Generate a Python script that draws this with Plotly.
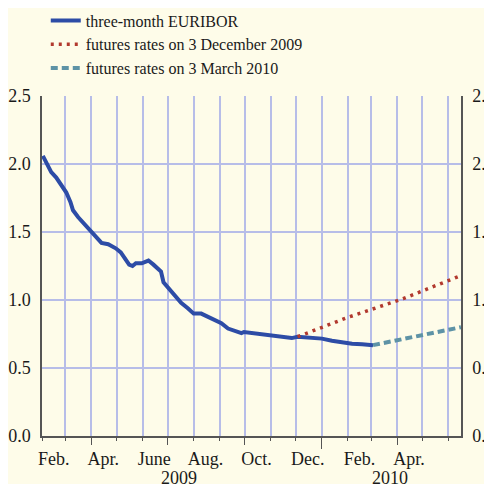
import plotly.graph_objects as go

# three-month EURIBOR (daily)
euribor_dates = [
    "2009-02-02", "2009-02-06", "2009-02-12", "2009-02-18", "2009-02-24",
    "2009-03-02", "2009-03-07", "2009-03-10", "2009-03-16", "2009-03-22",
    "2009-03-31", "2009-04-07", "2009-04-13", "2009-04-21", "2009-04-30",
    "2009-05-06", "2009-05-12", "2009-05-16", "2009-05-20", "2009-05-24",
    "2009-05-31", "2009-06-08", "2009-06-14", "2009-06-23", "2009-06-26",
    "2009-07-02", "2009-07-08", "2009-07-17", "2009-07-25", "2009-08-01",
    "2009-08-10", "2009-08-18", "2009-08-25", "2009-09-03", "2009-09-11",
    "2009-09-21", "2009-09-27", "2009-09-30", "2009-10-09", "2009-10-21",
    "2009-11-02", "2009-11-14", "2009-11-26", "2009-12-03", "2009-12-20",
    "2010-01-01", "2010-01-13", "2010-01-25", "2010-02-06", "2010-02-18",
    "2010-03-03",
]
euribor_values = [
    2.06, 2.01, 1.94, 1.90, 1.85,
    1.79, 1.72, 1.66, 1.61, 1.57,
    1.515, 1.46, 1.42, 1.41, 1.38,
    1.35, 1.29, 1.26, 1.25, 1.27,
    1.27, 1.29, 1.26, 1.21, 1.13,
    1.09, 1.04, 0.98, 0.94, 0.90,
    0.90, 0.875, 0.85, 0.83, 0.79,
    0.77, 0.757, 0.765, 0.757, 0.75,
    0.735, 0.728, 0.72, 0.73, 0.72,
    0.716, 0.70, 0.686, 0.679, 0.674,
    0.668,
]

# futures rates on 3 December 2009
fut_dec_dates = ["2009-12-03", "2010-01-31", "2010-04-08", "2010-06-16"]
fut_dec_values = [0.73, 0.87, 1.01, 1.18]

# futures rates on 3 March 2010
fut_mar_dates = ["2010-03-03", "2010-04-21", "2010-06-16"]
fut_mar_values = [0.668, 0.73, 0.80]

month_ticks = ["2009-02-15", "2009-04-15", "2009-06-15", "2009-08-15",
               "2009-10-15", "2009-12-15", "2010-02-15", "2010-04-15"]
month_labels = ["Feb.", "Apr.", "June", "Aug.", "Oct.", "Dec.", "Feb.", "Apr."]
year_pos = ["2009-07-14", "2010-03-23"]
year_labels = ["2009", "2010"]

x_range = ["2009-02-01", "2010-06-16"]
BG = "#fefce9"
GRID = "#b7bde8"
AXIS = "#555555"
FAMILY = "Liberation Serif, Times New Roman, serif"
FONT = dict(family=FAMILY, size=18, color="#1a1a1a")
LEG_FONT = dict(family=FAMILY, size=16, color="#1a1a1a")

fig = go.Figure()
fig.add_trace(go.Scatter(
    x=euribor_dates, y=euribor_values, mode="lines",
    line=dict(color="#2d4ca6", width=4), name="three-month EURIBOR"))
fig.add_trace(go.Scatter(
    x=fut_dec_dates, y=fut_dec_values, mode="lines",
    line=dict(color="#b2392e", width=3.5, dash="3px,5px"),
    name="futures rates on 3 December 2009"))
fig.add_trace(go.Scatter(
    x=fut_mar_dates, y=fut_mar_values, mode="lines",
    line=dict(color="#5e93a6", width=4, dash="7px,4px"),
    name="futures rates on 3 March 2010"))

# invisible helpers for the overlaid axes
fig.add_trace(go.Scatter(x=x_range, y=[0, 0], xaxis="x2", yaxis="y2",
                         mode="lines", line=dict(width=0), showlegend=False,
                         hoverinfo="skip"))
fig.add_trace(go.Scatter(x=x_range, y=[0, 0], xaxis="x3", yaxis="y",
                         mode="lines", line=dict(width=0), showlegend=False,
                         hoverinfo="skip"))

for d, t in zip(year_pos, year_labels):
    fig.add_annotation(x=d, xref="x", y=-0.123, yref="paper", text=t,
                       showarrow=False, font=FONT, yanchor="middle")

# the page body adds an 8px margin, so margins are shifted by that much
fig.update_layout(
    width=492, height=476,
    margin=dict(l=34, r=39, t=88, b=48, autoexpand=False),
    paper_bgcolor=BG, plot_bgcolor=BG,
    font=FONT,
    showlegend=True,
    legend=dict(x=0.009, y=1.272, xanchor="left", yanchor="top",
                bgcolor="rgba(0,0,0,0)", font=LEG_FONT, tracegroupgap=0),
    xaxis=dict(type="date", range=x_range, tick0="2009-01-01", dtick="M3",
               ticks="outside", ticklen=7, tickcolor=AXIS, tickwidth=1,
               showticklabels=False, showgrid=True, gridcolor=GRID, gridwidth=1.5,
               showline=True, linecolor=AXIS, linewidth=1.5, zeroline=False,
               automargin=False,
               minor=dict(tick0="2009-01-01", dtick="M1", ticks="outside",
                          ticklen=3, tickcolor=AXIS, showgrid=True,
                          gridcolor=GRID, gridwidth=1.5)),
    xaxis2=dict(type="date", range=x_range, overlaying="x", anchor="y",
                side="bottom", tickvals=month_ticks, ticktext=month_labels,
                ticks="outside", ticklen=6, tickcolor="rgba(0,0,0,0)",
                showgrid=False, showline=False, zeroline=False, tickfont=FONT,
                automargin=False),
    xaxis3=dict(type="date", range=x_range, overlaying="x", anchor="y",
                side="bottom", tickvals=["2010-01-01"], ticks="outside",
                ticklen=12, tickcolor=AXIS, tickwidth=1, showticklabels=False,
                showgrid=False, showline=False, zeroline=False, automargin=False),
    yaxis=dict(range=[0, 2.5], dtick=0.5, tickformat=".1f",
               ticks="outside", ticklen=6, tickcolor="rgba(0,0,0,0)",
               showgrid=True, gridcolor=GRID, gridwidth=1.5, automargin=False,
               showline=True, linecolor=AXIS, linewidth=1.5, zeroline=False),
    yaxis2=dict(range=[0, 2.5], dtick=0.5, tickformat=".1f", overlaying="y",
                side="right", anchor="x", ticks="outside", ticklen=6,
                tickcolor="rgba(0,0,0,0)", showgrid=False, automargin=False,
                showline=True, linecolor=AXIS, linewidth=1.5, zeroline=False),
)

fig.write_html("out.html")
